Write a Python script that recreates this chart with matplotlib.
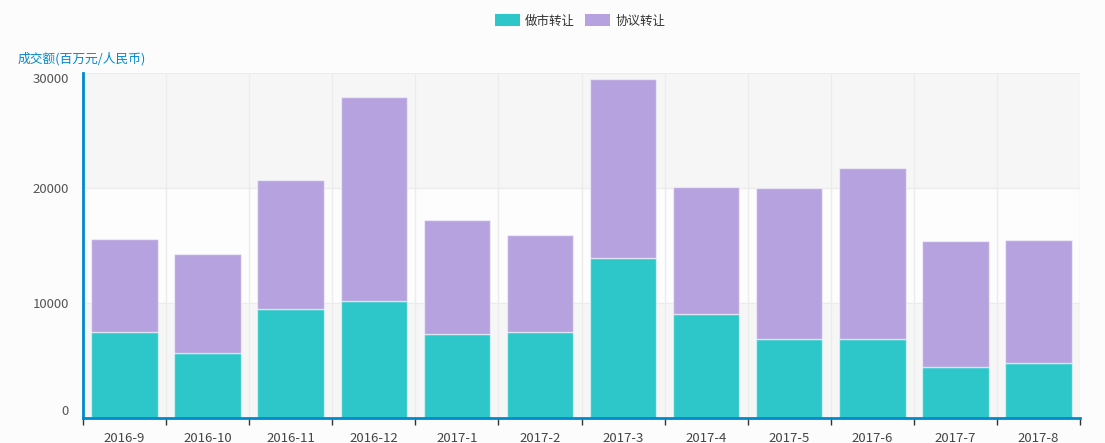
import matplotlib
matplotlib.use('Agg')
import matplotlib.pyplot as plt
from matplotlib.patches import Patch

plt.rcParams['font.family'] = ['Noto Sans CJK SC', 'DejaVu Sans']

# monthly turnover, millions of RMB
months = ['2016-9', '2016-10', '2016-11', '2016-12', '2017-1', '2017-2',
          '2017-3', '2017-4', '2017-5', '2017-6', '2017-7', '2017-8']
market_making = [7450, 5630, 9450, 10200, 7330, 7500, 13940, 9070, 6900, 6900, 4460, 4780]
negotiated = [8115, 8660, 11250, 17690, 9860, 8440, 15510, 10990, 13100, 14840, 10930, 10670]
series_names = ['做市转让', '协议转让']
y_ticks = [0, 10000, 20000, 30000]

teal = '#2ec7c9'
purple = '#b6a2de'
axis_blue = '#008acd'

fig = plt.figure(figsize=(11.05, 4.43), dpi=100, facecolor='#fcfcfc')
ax = fig.add_axes([83 / 1105, 1 - 418 / 443, (1080 - 83) / 1105, (418 - 73) / 443])
ax.set_facecolor('#fdfdfd')

x = list(range(len(months)))
ax.set_xlim(-0.5, len(months) - 0.5)
ax.set_ylim(0, 30000)

# alternating split areas
for i in range(len(y_ticks) - 1):
    if i % 2 == 0:
        ax.axhspan(y_ticks[i], y_ticks[i + 1], color='#f6f6f6', zorder=0, lw=0)

# grid lines
for yv in y_ticks[1:]:
    ax.axhline(yv, color='#ececec', lw=1, zorder=1)
for b in range(1, len(months) + 1):
    ax.axvline(b - 0.5, color='#ececec', lw=1, zorder=1)

ax.bar(x, market_making, width=0.8, color=teal, edgecolor=(1, 1, 1, 0.5), lw=1, zorder=2)
ax.bar(x, negotiated, width=0.8, bottom=market_making, color=purple,
       edgecolor=(1, 1, 1, 0.5), lw=1, zorder=2)

# axes styling
for s in ['top', 'right']:
    ax.spines[s].set_visible(False)
ax.spines['left'].set_color(axis_blue)
ax.spines['bottom'].set_color(axis_blue)
ax.spines['left'].set_linewidth(2)
ax.spines['bottom'].set_linewidth(2)

ax.set_yticks(y_ticks)
ax.set_yticklabels([str(v) for v in y_ticks])
ax.tick_params(axis='y', length=0, pad=10, labelsize=9.5, labelcolor='#555555')
# end labels kept inside the grid, like the original
ylabels = ax.get_yticklabels()
ylabels[0].set_va('bottom')
ylabels[-1].set_va('top')

ax.set_xticks(x)
ax.set_xticklabels(months)
ax.tick_params(axis='x', which='major', length=0, pad=10, labelsize=9.5, labelcolor='#444444')
ax.set_xticks([b - 0.5 for b in range(len(months) + 1)], minor=True)
ax.tick_params(axis='x', which='minor', length=5, width=1, color='#333333', direction='out')

fig.text(18 / 1105, 1 - 59 / 443, '成交额(百万元/人民币)', color=axis_blue, fontsize=9.2,
         va='center', ha='left')

handles = [Patch(facecolor=teal, edgecolor='none'), Patch(facecolor=purple, edgecolor='none')]
fig.legend(handles, series_names, loc='center', bbox_to_anchor=(580 / 1105, 1 - 21 / 443),
           ncol=2, frameon=False, fontsize=9, handlelength=2.0, handleheight=1.1,
           handletextpad=0.4, columnspacing=0.8, labelcolor='#333333')

fig.savefig('out.png', dpi=100, facecolor=fig.get_facecolor())
